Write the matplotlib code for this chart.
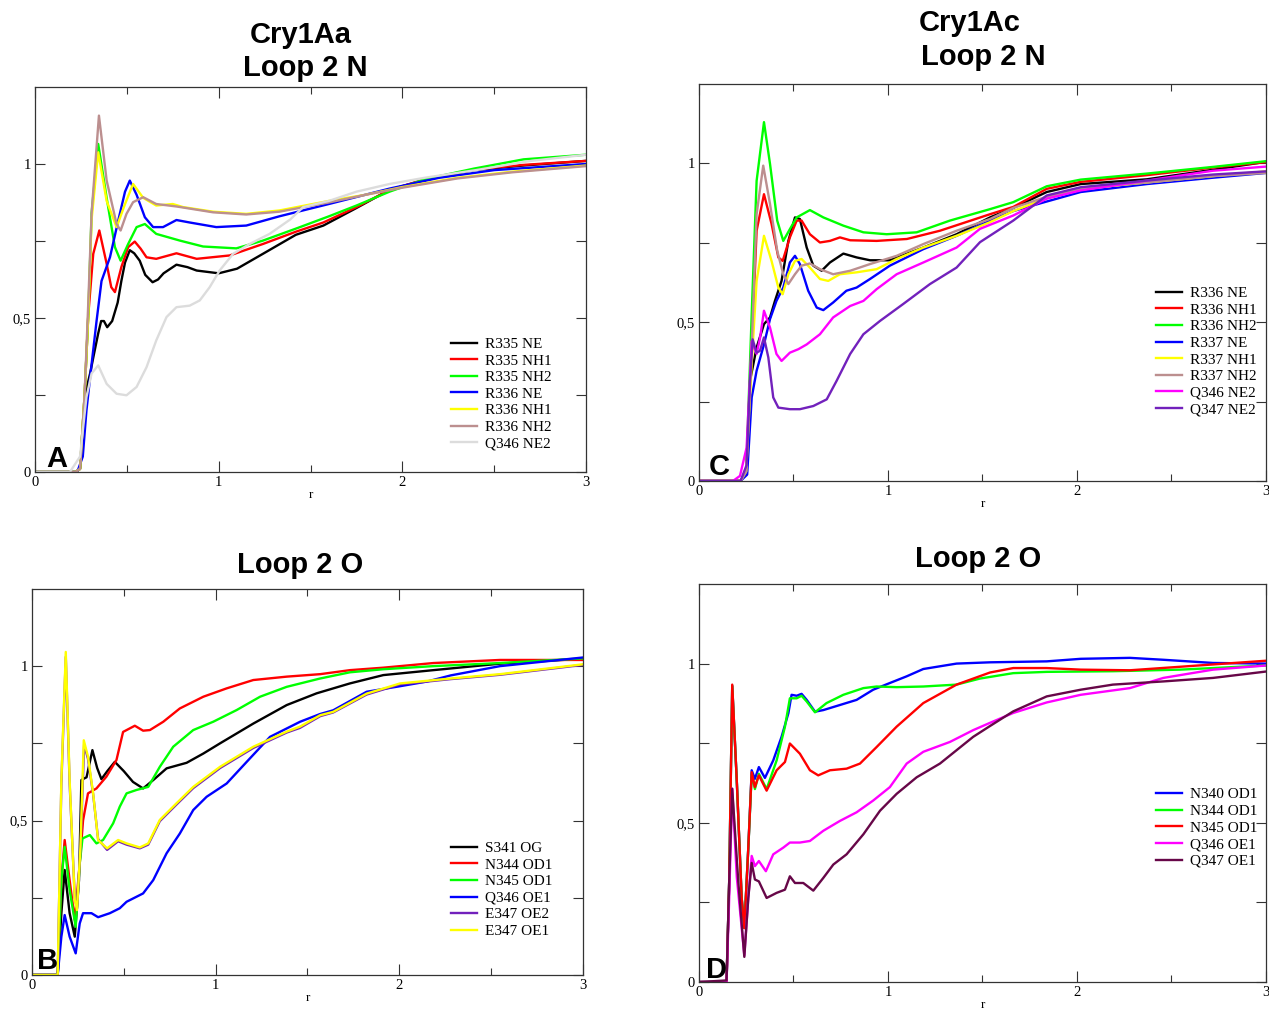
import matplotlib.pyplot as plt

# ---------- panel A : Cry1Aa Loop 2 N ----------
a_r335ne_r = [0, 0.22, 0.245, 0.26, 0.28, 0.30, 0.32, 0.344, 0.36, 0.375, 0.393, 0.42, 0.45, 0.47, 0.49, 0.516, 0.54, 0.57, 0.60, 0.64, 0.67, 0.70, 0.77, 0.83, 0.88, 1.0, 1.1, 1.24, 1.42, 1.57, 1.75, 1.93, 2.12, 2.39, 2.66, 3.0]
a_r335ne_g = [0, 0, 0.01, 0.1, 0.27, 0.32, 0.38, 0.45, 0.49, 0.49, 0.47, 0.49, 0.55, 0.62, 0.68, 0.72, 0.71, 0.686, 0.64, 0.616, 0.625, 0.645, 0.673, 0.665, 0.654, 0.645, 0.66, 0.708, 0.77, 0.80, 0.857, 0.916, 0.948, 0.98, 0.995, 1.01]
a_r335nh1_r = [0, 0.22, 0.245, 0.27, 0.29, 0.317, 0.35, 0.39, 0.415, 0.435, 0.47, 0.507, 0.543, 0.575, 0.607, 0.66, 0.77, 0.88, 1.06, 1.24, 1.42, 1.57, 1.75, 1.93, 2.12, 2.39, 2.66, 3.0]
a_r335nh1_g = [0, 0, 0.01, 0.25, 0.51, 0.708, 0.784, 0.676, 0.6, 0.584, 0.665, 0.73, 0.748, 0.725, 0.697, 0.692, 0.71, 0.692, 0.703, 0.74, 0.78, 0.81, 0.86, 0.915, 0.95, 0.982, 0.997, 1.01]
a_r335nh2_r = [0, 0.22, 0.245, 0.27, 0.29, 0.308, 0.344, 0.39, 0.435, 0.466, 0.507, 0.553, 0.598, 0.66, 0.79, 0.915, 1.096, 1.24, 1.42, 1.6, 1.75, 1.93, 2.12, 2.39, 2.66, 3.0]
a_r335nh2_g = [0, 0, 0.01, 0.25, 0.51, 0.84, 1.065, 0.89, 0.73, 0.686, 0.74, 0.795, 0.805, 0.773, 0.751, 0.732, 0.726, 0.751, 0.79, 0.83, 0.865, 0.91, 0.95, 0.985, 1.015, 1.03]
a_r336ne_r = [0, 0.23, 0.26, 0.28, 0.308, 0.335, 0.362, 0.408, 0.453, 0.49, 0.516, 0.553, 0.598, 0.643, 0.697, 0.77, 0.842, 0.987, 1.15, 1.33, 1.6, 1.93, 2.2, 2.5, 3.0]
a_r336ne_g = [0, 0, 0.05, 0.2, 0.35, 0.49, 0.62, 0.697, 0.816, 0.91, 0.946, 0.9, 0.827, 0.795, 0.795, 0.818, 0.81, 0.795, 0.80, 0.83, 0.87, 0.92, 0.955, 0.98, 1.0]
a_r336nh1_r = [0, 0.22, 0.245, 0.27, 0.29, 0.308, 0.344, 0.39, 0.444, 0.49, 0.534, 0.589, 0.66, 0.75, 0.806, 0.97, 1.15, 1.33, 1.6, 1.8, 2.0, 2.3, 2.6, 3.0]
a_r336nh1_g = [0, 0, 0.01, 0.25, 0.51, 0.82, 1.038, 0.88, 0.795, 0.87, 0.935, 0.89, 0.865, 0.87, 0.86, 0.845, 0.838, 0.849, 0.88, 0.9, 0.925, 0.955, 0.975, 0.995]
a_r336nh2_r = [0, 0.22, 0.245, 0.27, 0.29, 0.308, 0.348, 0.39, 0.444, 0.466, 0.498, 0.534, 0.589, 0.66, 0.77, 0.97, 1.15, 1.33, 1.6, 1.8, 2.0, 2.3, 2.6, 3.0]
a_r336nh2_g = [0, 0, 0.01, 0.25, 0.55, 0.84, 1.157, 0.946, 0.805, 0.784, 0.838, 0.876, 0.892, 0.87, 0.862, 0.843, 0.836, 0.845, 0.875, 0.9, 0.923, 0.953, 0.973, 0.993]
a_q346ne2_r = [0, 0.19, 0.245, 0.28, 0.308, 0.344, 0.39, 0.444, 0.498, 0.553, 0.607, 0.66, 0.716, 0.77, 0.842, 0.897, 0.951, 1.005, 1.078, 1.168, 1.277, 1.39, 1.46, 1.6, 1.75, 1.93, 2.12, 2.4, 2.7, 3.0]
a_q346ne2_g = [0, 0, 0.05, 0.243, 0.32, 0.346, 0.286, 0.254, 0.249, 0.276, 0.34, 0.427, 0.503, 0.535, 0.54, 0.557, 0.6, 0.654, 0.708, 0.74, 0.773, 0.82, 0.86, 0.88, 0.91, 0.935, 0.955, 0.98, 1.01, 1.03]

# ---------- panel C : Cry1Ac Loop 2 N ----------
c_r336ne_r = [0, 0.22, 0.25, 0.27, 0.305, 0.344, 0.376, 0.402, 0.437, 0.473, 0.508, 0.534, 0.57, 0.605, 0.649, 0.693, 0.764, 0.834, 0.905, 1.01, 1.187, 1.363, 1.54, 1.663, 1.84, 2.02, 2.37, 2.72, 3.0]
c_r336ne_g = [0, 0, 0.03, 0.315, 0.42, 0.494, 0.515, 0.567, 0.63, 0.756, 0.83, 0.825, 0.735, 0.678, 0.662, 0.688, 0.716, 0.704, 0.695, 0.695, 0.735, 0.777, 0.83, 0.86, 0.91, 0.935, 0.95, 0.98, 1.005]
c_r336nh1_r = [0, 0.22, 0.25, 0.279, 0.305, 0.344, 0.384, 0.42, 0.443, 0.481, 0.517, 0.543, 0.587, 0.64, 0.693, 0.746, 0.8, 0.94, 1.1, 1.275, 1.54, 1.663, 1.84, 2.02, 2.37, 2.72, 3.0]
c_r336nh1_g = [0, 0, 0.03, 0.42, 0.788, 0.903, 0.81, 0.704, 0.693, 0.767, 0.82, 0.82, 0.777, 0.751, 0.756, 0.767, 0.758, 0.756, 0.762, 0.788, 0.84, 0.863, 0.92, 0.942, 0.963, 0.987, 1.004]
c_r336nh2_r = [0, 0.22, 0.25, 0.279, 0.305, 0.344, 0.376, 0.414, 0.446, 0.481, 0.517, 0.587, 0.658, 0.764, 0.87, 0.993, 1.152, 1.328, 1.54, 1.663, 1.84, 2.02, 2.37, 2.72, 3.0]
c_r336nh2_g = [0, 0, 0.03, 0.525, 0.945, 1.13, 0.998, 0.82, 0.756, 0.793, 0.83, 0.853, 0.83, 0.804, 0.783, 0.777, 0.783, 0.82, 0.856, 0.878, 0.928, 0.949, 0.968, 0.989, 1.007]
c_r337ne_r = [0, 0.22, 0.255, 0.279, 0.305, 0.344, 0.376, 0.41, 0.446, 0.481, 0.508, 0.534, 0.578, 0.623, 0.658, 0.71, 0.78, 0.834, 0.905, 1.01, 1.187, 1.363, 1.54, 1.663, 1.84, 2.02, 2.37, 2.72, 3.0]
c_r337ne_g = [0, 0, 0.02, 0.263, 0.347, 0.43, 0.51, 0.567, 0.609, 0.688, 0.709, 0.683, 0.599, 0.546, 0.538, 0.562, 0.599, 0.609, 0.636, 0.678, 0.73, 0.772, 0.82, 0.85, 0.88, 0.91, 0.935, 0.955, 0.97]
c_r337nh1_r = [0, 0.22, 0.25, 0.279, 0.305, 0.344, 0.384, 0.42, 0.443, 0.473, 0.508, 0.543, 0.587, 0.64, 0.684, 0.746, 0.834, 0.94, 1.046, 1.187, 1.363, 1.54, 1.663, 1.84, 2.02, 2.37, 2.72, 3.0]
c_r337nh1_g = [0, 0, 0.03, 0.37, 0.63, 0.772, 0.693, 0.609, 0.588, 0.651, 0.693, 0.699, 0.672, 0.636, 0.63, 0.651, 0.657, 0.667, 0.699, 0.735, 0.772, 0.815, 0.85, 0.89, 0.92, 0.94, 0.96, 0.975]
c_r337nh2_r = [0, 0.22, 0.25, 0.279, 0.305, 0.34, 0.376, 0.414, 0.446, 0.473, 0.508, 0.543, 0.587, 0.64, 0.71, 0.8, 0.905, 1.046, 1.187, 1.363, 1.54, 1.663, 1.84, 2.02, 2.37, 2.72, 3.0]
c_r337nh2_g = [0, 0, 0.03, 0.42, 0.84, 0.993, 0.872, 0.725, 0.651, 0.62, 0.651, 0.678, 0.685, 0.667, 0.651, 0.662, 0.683, 0.709, 0.746, 0.788, 0.825, 0.86, 0.895, 0.92, 0.94, 0.96, 0.97]
c_q346ne2_r = [0, 0.18, 0.217, 0.252, 0.279, 0.305, 0.323, 0.344, 0.376, 0.41, 0.437, 0.481, 0.526, 0.57, 0.64, 0.71, 0.8, 0.87, 0.94, 1.046, 1.187, 1.363, 1.487, 1.663, 1.84, 2.02, 2.37, 2.72, 3.0]
c_q346ne2_g = [0, 0, 0.016, 0.105, 0.44, 0.4, 0.45, 0.536, 0.483, 0.4, 0.378, 0.404, 0.415, 0.43, 0.462, 0.515, 0.551, 0.567, 0.604, 0.651, 0.688, 0.735, 0.794, 0.836, 0.889, 0.915, 0.946, 0.977, 0.99]
c_q347ne2_r = [0, 0.22, 0.252, 0.27, 0.284, 0.305, 0.323, 0.344, 0.367, 0.393, 0.42, 0.481, 0.534, 0.605, 0.676, 0.728, 0.8, 0.87, 0.958, 1.08, 1.222, 1.363, 1.487, 1.663, 1.84, 2.02, 2.37, 2.72, 3.0]
c_q347ne2_g = [0, 0, 0.05, 0.315, 0.446, 0.404, 0.41, 0.452, 0.389, 0.263, 0.231, 0.226, 0.226, 0.236, 0.257, 0.315, 0.4, 0.462, 0.504, 0.557, 0.62, 0.672, 0.752, 0.82, 0.899, 0.925, 0.946, 0.965, 0.975]

# ---------- panel B : Cry1Aa Loop 2 O ----------
b_s341og_r = [0, 0.14, 0.16, 0.178, 0.205, 0.233, 0.256, 0.269, 0.28, 0.297, 0.329, 0.355, 0.378, 0.41, 0.451, 0.5, 0.55, 0.605, 0.66, 0.733, 0.842, 0.933, 1.024, 1.205, 1.387, 1.55, 1.731, 1.913, 2.185, 2.548, 3.0]
b_s341og_g = [0, 0, 0.2, 0.34, 0.2, 0.124, 0.307, 0.631, 0.635, 0.64, 0.728, 0.67, 0.634, 0.66, 0.69, 0.66, 0.625, 0.604, 0.631, 0.669, 0.687, 0.717, 0.75, 0.814, 0.874, 0.912, 0.944, 0.971, 0.987, 1.008, 1.024]
b_n344od1_r = [0, 0.14, 0.16, 0.178, 0.205, 0.233, 0.26, 0.278, 0.305, 0.351, 0.405, 0.46, 0.496, 0.56, 0.605, 0.642, 0.715, 0.805, 0.933, 1.06, 1.205, 1.387, 1.569, 1.731, 1.913, 2.185, 2.548, 3.0]
b_n344od1_g = [0, 0, 0.307, 0.437, 0.307, 0.178, 0.361, 0.5, 0.588, 0.604, 0.642, 0.696, 0.787, 0.807, 0.791, 0.793, 0.82, 0.863, 0.901, 0.928, 0.955, 0.966, 0.974, 0.987, 0.995, 1.01, 1.02, 1.02]
b_n345od1_r = [0, 0.14, 0.16, 0.178, 0.205, 0.238, 0.26, 0.275, 0.315, 0.351, 0.387, 0.442, 0.478, 0.515, 0.569, 0.633, 0.696, 0.769, 0.878, 0.987, 1.115, 1.242, 1.387, 1.569, 1.731, 1.913, 2.185, 2.548, 3.0]
b_n345od1_g = [0, 0, 0.307, 0.415, 0.275, 0.156, 0.361, 0.442, 0.453, 0.426, 0.437, 0.491, 0.545, 0.588, 0.599, 0.609, 0.674, 0.739, 0.793, 0.82, 0.858, 0.901, 0.933, 0.96, 0.98, 0.99, 1.0, 1.01, 1.025]
b_q346oe1_r = [0, 0.14, 0.16, 0.178, 0.205, 0.238, 0.26, 0.278, 0.324, 0.36, 0.424, 0.478, 0.515, 0.605, 0.66, 0.733, 0.805, 0.878, 0.951, 1.06, 1.169, 1.296, 1.46, 1.569, 1.64, 1.822, 2.004, 2.15, 2.28, 2.548, 3.0]
b_q346oe1_g = [0, 0, 0.124, 0.194, 0.124, 0.07, 0.167, 0.2, 0.2, 0.187, 0.2, 0.216, 0.237, 0.264, 0.307, 0.394, 0.458, 0.534, 0.577, 0.62, 0.69, 0.771, 0.82, 0.845, 0.857, 0.917, 0.935, 0.95, 0.97, 1.0, 1.028]
b_e347oe2_r = [0, 0.14, 0.16, 0.184, 0.205, 0.233, 0.245, 0.264, 0.284, 0.305, 0.333, 0.36, 0.409, 0.469, 0.515, 0.587, 0.633, 0.696, 0.787, 0.878, 1.024, 1.205, 1.387, 1.459, 1.569, 1.64, 1.822, 2.004, 2.28, 2.548, 3.0]
b_e347oe2_g = [0, 0, 0.62, 1.03, 0.62, 0.25, 0.215, 0.41, 0.745, 0.70, 0.585, 0.44, 0.405, 0.433, 0.422, 0.41, 0.422, 0.498, 0.552, 0.605, 0.67, 0.735, 0.785, 0.80, 0.838, 0.85, 0.908, 0.941, 0.958, 0.972, 1.004]
b_e347oe1_r = [0, 0.14, 0.16, 0.184, 0.205, 0.233, 0.245, 0.264, 0.282, 0.305, 0.333, 0.36, 0.409, 0.469, 0.515, 0.587, 0.633, 0.696, 0.787, 0.878, 1.024, 1.205, 1.387, 1.459, 1.569, 1.64, 1.822, 2.004, 2.28, 2.548, 3.0]
b_e347oe1_g = [0, 0, 0.631, 1.046, 0.631, 0.243, 0.21, 0.415, 0.76, 0.707, 0.588, 0.437, 0.41, 0.437, 0.426, 0.413, 0.426, 0.502, 0.556, 0.609, 0.674, 0.739, 0.788, 0.804, 0.841, 0.852, 0.911, 0.944, 0.96, 0.974, 1.006]

# ---------- panel D : Cry1Ac Loop 2 O ----------
d_n340od1_r = [0, 0.146, 0.16, 0.176, 0.2, 0.226, 0.24, 0.261, 0.279, 0.296, 0.317, 0.349, 0.393, 0.437, 0.473, 0.49, 0.517, 0.543, 0.57, 0.614, 0.658, 0.746, 0.834, 0.922, 1.01, 1.099, 1.187, 1.363, 1.54, 1.84, 2.02, 2.28, 2.457, 2.72, 3.0]
d_n340od1_g = [0, 0, 0.316, 0.93, 0.633, 0.264, 0.17, 0.42, 0.665, 0.638, 0.675, 0.641, 0.696, 0.77, 0.844, 0.902, 0.899, 0.905, 0.886, 0.849, 0.854, 0.87, 0.886, 0.918, 0.939, 0.96, 0.983, 1.0, 1.004, 1.007, 1.015, 1.018, 1.012, 1.002, 1.0]
d_n344od1_r = [0, 0.146, 0.16, 0.176, 0.2, 0.226, 0.24, 0.261, 0.279, 0.296, 0.317, 0.358, 0.411, 0.455, 0.481, 0.517, 0.543, 0.57, 0.614, 0.675, 0.764, 0.87, 0.94, 1.046, 1.187, 1.363, 1.487, 1.663, 1.84, 2.19, 2.545, 3.0]
d_n344od1_g = [0, 0, 0.316, 0.93, 0.633, 0.264, 0.17, 0.42, 0.654, 0.606, 0.654, 0.606, 0.696, 0.802, 0.891, 0.891, 0.899, 0.881, 0.847, 0.876, 0.902, 0.923, 0.928, 0.926, 0.928, 0.934, 0.953, 0.97, 0.974, 0.976, 0.981, 0.994]
d_n345od1_r = [0, 0.146, 0.16, 0.176, 0.2, 0.226, 0.24, 0.261, 0.279, 0.296, 0.317, 0.358, 0.411, 0.455, 0.481, 0.534, 0.587, 0.631, 0.693, 0.781, 0.852, 0.94, 1.046, 1.187, 1.363, 1.54, 1.663, 1.84, 2.02, 2.28, 2.545, 3.0]
d_n345od1_g = [0, 0, 0.316, 0.934, 0.633, 0.264, 0.169, 0.422, 0.659, 0.612, 0.649, 0.601, 0.665, 0.691, 0.749, 0.717, 0.665, 0.649, 0.665, 0.67, 0.686, 0.738, 0.802, 0.876, 0.934, 0.972, 0.986, 0.986, 0.981, 0.979, 0.99, 1.009]
d_q346oe1_r = [0, 0.146, 0.16, 0.176, 0.2, 0.24, 0.261, 0.279, 0.296, 0.317, 0.354, 0.393, 0.446, 0.481, 0.534, 0.587, 0.658, 0.746, 0.834, 0.922, 1.01, 1.099, 1.187, 1.328, 1.451, 1.54, 1.663, 1.84, 2.02, 2.28, 2.457, 2.72, 3.0]
d_q346oe1_g = [0, 0, 0.264, 0.607, 0.33, 0.084, 0.264, 0.396, 0.364, 0.38, 0.348, 0.401, 0.422, 0.438, 0.438, 0.443, 0.475, 0.506, 0.533, 0.57, 0.612, 0.686, 0.723, 0.754, 0.791, 0.814, 0.845, 0.878, 0.902, 0.923, 0.955, 0.981, 0.994]
d_q347oe1_r = [0, 0.146, 0.16, 0.176, 0.208, 0.24, 0.261, 0.279, 0.296, 0.317, 0.358, 0.411, 0.455, 0.481, 0.508, 0.552, 0.605, 0.658, 0.711, 0.781, 0.87, 0.958, 1.046, 1.152, 1.275, 1.451, 1.54, 1.663, 1.84, 2.02, 2.19, 2.457, 2.72, 3.0]
d_q347oe1_g = [0, 0.005, 0.316, 0.607, 0.316, 0.079, 0.264, 0.374, 0.322, 0.316, 0.264, 0.28, 0.29, 0.332, 0.311, 0.311, 0.287, 0.327, 0.369, 0.401, 0.464, 0.538, 0.591, 0.643, 0.686, 0.77, 0.804, 0.85, 0.897, 0.918, 0.934, 0.944, 0.955, 0.975]

# xmgrace palette
BLACK, RED, GREEN, BLUE, YELLOW = "#000000", "#ff0000", "#00ff00", "#0000ff", "#ffff00"
BROWN, GREY, MAGENTA, INDIGO, MAROON = "#bc8f8f", "#dcdcdc", "#ff00ff", "#7221bc", "#670748"

SERIF = "Liberation Serif"
LW = 1.7
W, H = 1269, 1010


def style_axes(ax, letter, letter_xy, legend_anchor):
    ax.set_xlim(0, 3)
    ax.set_ylim(0, 1.25)
    ax.set_xticks([0, 1, 2, 3])
    ax.set_xticks([0.5, 1.5, 2.5], minor=True)
    ax.set_xticklabels(["0", "1", "2", "3"], fontfamily=SERIF, fontsize=10.5)
    ax.set_yticks([0, 0.5, 1])
    ax.set_yticks([0.25, 0.75], minor=True)
    ax.set_yticklabels(["0", "0,5", "1"], fontfamily=SERIF, fontsize=10.5)
    ax.tick_params(which="both", direction="in", top=True, right=True,
                   width=0.8, color="#333333")
    ax.tick_params(axis="x", which="major", length=8, pad=3)
    ax.tick_params(axis="x", which="minor", length=5)
    ax.tick_params(axis="y", which="both", length=7, pad=3)
    ax.set_xlabel("r", fontfamily=SERIF, fontsize=9.5, labelpad=0)
    for s in ax.spines.values():
        s.set_linewidth(0.9)
        s.set_color("#333333")
    ax.text(letter_xy[0], letter_xy[1], letter, transform=ax.transAxes,
            fontsize=21, fontweight="bold", family="Liberation Sans",
            va="baseline", ha="left")
    ax.legend(loc="upper left", bbox_to_anchor=legend_anchor, frameon=False,
              prop={"family": SERIF, "size": 11}, handlelength=1.7,
              handletextpad=0.55, labelspacing=0.19, borderaxespad=0, borderpad=0)


fig = plt.figure(figsize=(W / 100, H / 100), dpi=100)

# panel A
axA = fig.add_axes([0.0276, 0.5327, 0.4342, 0.3812])
axA.plot(a_r335ne_r, a_r335ne_g, color=BLACK, lw=LW, label="R335 NE")
axA.plot(a_r335nh1_r, a_r335nh1_g, color=RED, lw=LW, label="R335 NH1")
axA.plot(a_r335nh2_r, a_r335nh2_g, color=GREEN, lw=LW, label="R335 NH2")
axA.plot(a_r336ne_r, a_r336ne_g, color=BLUE, lw=LW, label="R336 NE")
axA.plot(a_r336nh1_r, a_r336nh1_g, color=YELLOW, lw=LW, label="R336 NH1")
axA.plot(a_r336nh2_r, a_r336nh2_g, color=BROWN, lw=LW, label="R336 NH2")
axA.plot(a_q346ne2_r, a_q346ne2_g, color=GREY, lw=LW, label="Q346 NE2")
style_axes(axA, "A", (0.02, 0.013), (0.755, 0.35))

# panel C
axC = fig.add_axes([0.5508, 0.5238, 0.4468, 0.393])
axC.plot(c_r336ne_r, c_r336ne_g, color=BLACK, lw=LW, label="R336 NE")
axC.plot(c_r336nh1_r, c_r336nh1_g, color=RED, lw=LW, label="R336 NH1")
axC.plot(c_r336nh2_r, c_r336nh2_g, color=GREEN, lw=LW, label="R336 NH2")
axC.plot(c_r337ne_r, c_r337ne_g, color=BLUE, lw=LW, label="R337 NE")
axC.plot(c_r337nh1_r, c_r337nh1_g, color=YELLOW, lw=LW, label="R337 NH1")
axC.plot(c_r337nh2_r, c_r337nh2_g, color=BROWN, lw=LW, label="R337 NH2")
axC.plot(c_q346ne2_r, c_q346ne2_g, color=MAGENTA, lw=LW, label="Q346 NE2")
axC.plot(c_q347ne2_r, c_q347ne2_g, color=INDIGO, lw=LW, label="Q347 NE2")
style_axes(axC, "C", (0.018, 0.015), (0.806, 0.49))

# panel B
axB = fig.add_axes([0.0252, 0.0347, 0.4342, 0.3822])
axB.plot(b_s341og_r, b_s341og_g, color=BLACK, lw=LW, label="S341 OG")
axB.plot(b_n344od1_r, b_n344od1_g, color=RED, lw=LW, label="N344 OD1")
axB.plot(b_n345od1_r, b_n345od1_g, color=GREEN, lw=LW, label="N345 OD1")
axB.plot(b_q346oe1_r, b_q346oe1_g, color=BLUE, lw=LW, label="Q346 OE1")
axB.plot(b_e347oe2_r, b_e347oe2_g, color=INDIGO, lw=LW, label="E347 OE2")
axB.plot(b_e347oe1_r, b_e347oe1_g, color=YELLOW, lw=LW, label="E347 OE1")
style_axes(axB, "B", (0.009, 0.016), (0.76, 0.346))

# panel D
axD = fig.add_axes([0.5508, 0.0277, 0.4468, 0.3941])
axD.plot(d_n340od1_r, d_n340od1_g, color=BLUE, lw=LW, label="N340 OD1")
axD.plot(d_n344od1_r, d_n344od1_g, color=GREEN, lw=LW, label="N344 OD1")
axD.plot(d_n345od1_r, d_n345od1_g, color=RED, lw=LW, label="N345 OD1")
axD.plot(d_q346oe1_r, d_q346oe1_g, color=MAGENTA, lw=LW, label="Q346 OE1")
axD.plot(d_q347oe1_r, d_q347oe1_g, color=MAROON, lw=LW, label="Q347 OE1")
style_axes(axD, "D", (0.012, 0.01), (0.806, 0.488))

# titles (baseline positions in pixels)
title_kw = dict(fontsize=21, fontweight="bold", family="Liberation Sans",
                ha="center", va="baseline")
fig.text(301 / W, 1 - 43 / H, "Cry1Aa", **title_kw)
fig.text(305 / W, 1 - 76 / H, "Loop 2 N", **title_kw)
fig.text(970 / W, 1 - 31 / H, "Cry1Ac", **title_kw)
fig.text(983 / W, 1 - 65 / H, "Loop 2 N", **title_kw)
fig.text(300 / W, 1 - 573 / H, "Loop 2 O", **title_kw)
fig.text(978 / W, 1 - 567 / H, "Loop 2 O", **title_kw)

fig.savefig("out.png", dpi=100)
